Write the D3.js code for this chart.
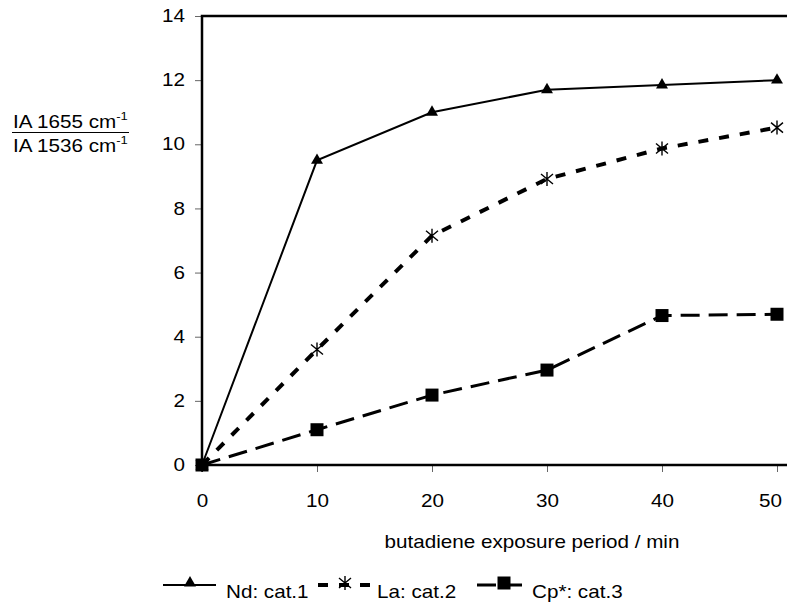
<!DOCTYPE html>
<html>
<head>
<meta charset="utf-8">
<script src="https://cdn.jsdelivr.net/npm/d3@7"></script>
<style>
  body { margin: 0; background: #fff; }
  svg { display: block; font-family: "Liberation Sans", Arial, sans-serif; }
</style>
</head>
<body>
<svg id="chart" width="787" height="602"></svg>
<script>
// data
var minutes = [0, 10, 20, 30, 40, 50];
var nd = [0, 9.5, 11.0, 11.7, 11.85, 12.0];
var la = [0, 3.6, 7.15, 8.92, 9.87, 10.52];
var cp = [0, 1.1, 2.18, 2.96, 4.66, 4.7];
var seriesNames = ["Nd: cat.1", "La: cat.2", "Cp*: cat.3"];
var xTicks = [0, 10, 20, 30, 40, 50];
var yTicks = [0, 2, 4, 6, 8, 10, 12, 14];

var svg = d3.select("#chart"),
    margin = {top: 16, left: 202},
    width = 787 - margin.left,
    height = 449,
    sx = 1.18,   // the original picture is a bit stretched sideways
    fs = 17.5;

var g = svg.append("g")
    .attr("transform", "translate(" + margin.left + "," + margin.top + ")");

var x = d3.scaleLinear()
    .domain([0, 50 * width / 575])
    .range([0, width]);

var y = d3.scaleLinear()
    .domain([0, 14])
    .range([height, 0]);

function label(parent, px, py, txt, anchor, size) {
    return parent.append("text")
        .attr("transform", "translate(" + px + "," + py + ") scale(" + sx + ",1)")
        .attr("text-anchor", anchor || "start")
        .attr("font-size", size || fs)
        .attr("fill", "#000")
        .text(txt);
}

// axes
var yAxis = g.append("g")
    .call(d3.axisLeft(y).tickValues(yTicks).tickSize(7).tickPadding(7.4));
yAxis.select(".domain").remove();
yAxis.selectAll(".tick line").attr("stroke", "#666");
yAxis.selectAll(".tick text")
    .attr("font-size", fs)
    .attr("fill", "#000")
    .attr("font-family", null)
    .attr("transform", "scale(" + sx + ",1)")
    .attr("x", -14.4);

var xAxis = g.append("g")
    .attr("transform", "translate(0," + height + ")")
    .call(d3.axisBottom(x).tickValues(xTicks).tickSize(7).tickPadding(22.5));
xAxis.select(".domain").remove();
xAxis.selectAll(".tick line").attr("stroke", "#666");
xAxis.selectAll(".tick text")
    .attr("font-size", fs)
    .attr("fill", "#000")
    .attr("font-family", null)
    .attr("transform", "scale(" + sx + ",1)")
    .attr("x", function (d) { return d == 50 ? -7 / sx : 0; }); // last label pulled in, as in the original

// frame: left, top, bottom
g.append("path")
    .attr("d", "M" + width + ",0H0V" + height + "H" + width)
    .attr("fill", "none")
    .attr("stroke", "#000")
    .attr("stroke-width", 2.5);

// series
var series = [
    {name: seriesNames[0], values: nd, dash: null, sw: 2, marker: "tri"},
    {name: seriesNames[1], values: la, dash: "10,11", sw: 4, marker: "star"},
    {name: seriesNames[2], values: cp, dash: "19,9", sw: 3, marker: "sq"}
];

var line = d3.line()
    .x(function (d) { return x(d.t); })
    .y(function (d) { return y(d.v); });

var starPath = "M0,-7V7M-6,-5L6,5M-6,5L6,-5";

function drawMarker(sel, kind) {
    if (kind == "tri") {
        sel.append("path").attr("d", d3.symbol(d3.symbolTriangle, 62)()).attr("fill", "#000");
    } else if (kind == "sq") {
        sel.append("path").attr("d", d3.symbol(d3.symbolSquare, 169)()).attr("fill", "#000");
    } else {
        sel.append("path").attr("d", starPath).attr("fill", "none")
            .attr("stroke", "#000").attr("stroke-width", 1.4);
    }
}

series.forEach(function (s) {
    var pts = minutes.map(function (t, i) { return {t: t, v: s.values[i]}; });
    g.append("path")
        .datum(pts)
        .attr("d", line)
        .attr("fill", "none")
        .attr("stroke", "#000")
        .attr("stroke-width", s.sw)
        .attr("stroke-dasharray", s.dash);
    g.selectAll(null)
        .data(pts)
        .enter()
        .append("g")
        .attr("transform", function (d) { return "translate(" + x(d.t) + "," + y(d.v) + ")"; })
        .each(function () { drawMarker(d3.select(this), s.marker); });
});

// axis titles
label(svg, 532, 548, "butadiene exposure period / min", "middle");

var yl = svg.append("g");
var t1 = label(yl, 13, 128, "IA 1655 cm", "start");
t1.append("tspan").attr("font-size", 11).attr("dy", -8).text("-1");
var t2 = label(yl, 13, 152, "IA 1536 cm", "start");
t2.append("tspan").attr("font-size", 11).attr("dy", -8).text("-1");
yl.append("line")
    .attr("x1", 12).attr("x2", 129)
    .attr("y1", 132.5).attr("y2", 132.5)
    .attr("stroke", "#000").attr("stroke-width", 1.2);

// legend
var legendPos = [
    {x1: 163, x2: 216, mx: 190, tx: 226},
    {x1: 318, x2: 374, mx: 345, tx: 377},
    {x1: 477, x2: 522, mx: 504, tx: 532}
];
series.forEach(function (s, i) {
    var p = legendPos[i];
    var lg = svg.append("g");
    lg.append("line")
        .attr("x1", p.x1).attr("x2", p.x2)
        .attr("y1", 585).attr("y2", 585)
        .attr("stroke", "#000")
        .attr("stroke-width", s.sw)
        .attr("stroke-dasharray", s.dash);
    var m = lg.append("g").attr("transform", "translate(" + p.mx + "," + 583 + ")");
    drawMarker(m, s.marker);
    label(lg, p.tx, 598, s.name, "start");
});
</script>
</body>
</html>
